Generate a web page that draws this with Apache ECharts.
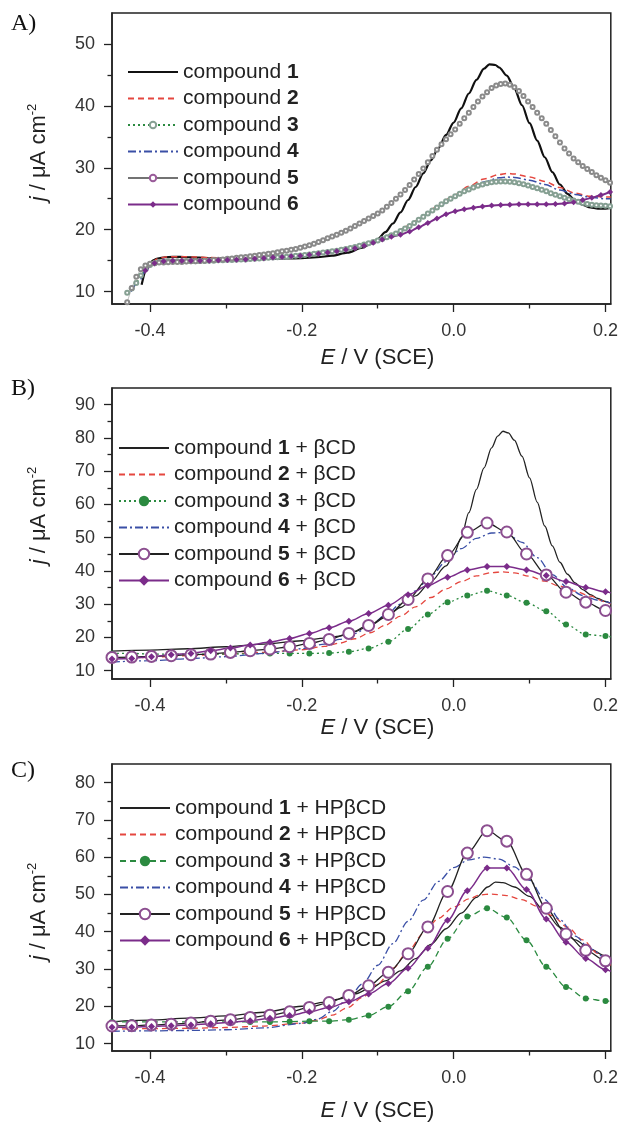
<!DOCTYPE html>
<html><head><meta charset="utf-8">
<script src="https://cdn.jsdelivr.net/npm/echarts@6.0.0/dist/echarts.min.js"></script>
<style>html,body{margin:0;padding:0;background:#fff}#c{width:621px;height:1124px}</style>
</head><body><div id="c"></div>
<script>
// ---------------- DATA ----------------
const E_RANGE = [-0.45, 0.207];
const X_MAJOR = [-0.4, -0.2, 0, 0.2];
const X_MINOR = [-0.3, -0.1, 0.1];
const Y_RANGE_A = [8, 55], YA_MAJOR = [10, 20, 30, 40, 50], YA_MINOR = [15, 25, 35, 45];
const Y_RANGE_B = [7.5, 95], YB_MAJOR = [10, 20, 30, 40, 50, 60, 70, 80, 90], YB_MINOR = [15, 25, 35, 45, 55, 65, 75, 85];
const Y_RANGE_C = [8, 85], YC_MAJOR = [10, 20, 30, 40, 50, 60, 70, 80], YC_MINOR = [15, 25, 35, 45, 55, 65, 75];

const NAMES_A = ['compound 1', 'compound 2', 'compound 3', 'compound 4', 'compound 5', 'compound 6'];
const NAMES_B = ['compound 1 + βCD', 'compound 2 + βCD', 'compound 3 + βCD', 'compound 4 + βCD', 'compound 5 + βCD', 'compound 6 + βCD'];
const NAMES_C = ['compound 1 + HPβCD', 'compound 2 + HPβCD', 'compound 3 + HPβCD', 'compound 4 + HPβCD', 'compound 5 + HPβCD', 'compound 6 + HPβCD'];

// Panel A
const E_A1 = [-0.411,-0.405,-0.400,-0.395,-0.390,-0.380,-0.370,-0.360,-0.350,-0.340,-0.330,-0.320,-0.300,-0.280,-0.260,-0.240,-0.220,-0.200,-0.180,-0.160,-0.140,-0.120,-0.110,-0.100,-0.090,-0.080,-0.070,-0.060,-0.050,-0.040,-0.030,-0.020,-0.010,0.000,0.010,0.020,0.030,0.040,0.047,0.055,0.060,0.070,0.080,0.090,0.100,0.110,0.120,0.130,0.140,0.150,0.160,0.170,0.180,0.190,0.200,0.207];
const J_A1 = [11.1,13.4,14.6,15.1,15.35,15.55,15.6,15.6,15.55,15.5,15.45,15.4,15.35,15.3,15.3,15.3,15.35,15.4,15.55,15.8,16.3,17.1,17.7,18.5,19.6,21.0,22.8,24.8,26.9,29.1,31.2,33.2,35.3,37.3,39.6,42.0,44.2,46.0,46.7,46.6,46.2,44.9,42.8,40.1,37.2,34.4,31.7,29.3,27.3,25.8,24.7,24.0,23.6,23.4,23.4,23.5];
const E_A2 = [-0.420,-0.410,-0.400,-0.390,-0.380,-0.360,-0.340,-0.320,-0.300,-0.280,-0.260,-0.240,-0.220,-0.200,-0.180,-0.160,-0.140,-0.120,-0.100,-0.080,-0.060,-0.040,-0.020,0.000,0.020,0.040,0.060,0.070,0.080,0.100,0.120,0.140,0.160,0.180,0.200,0.207];
const J_A2 = [11.0,12.8,14.5,15.3,15.6,15.65,15.6,15.5,15.45,15.4,15.45,15.5,15.6,15.8,16.0,16.35,16.85,17.5,18.3,19.3,20.6,22.2,23.9,25.5,27.0,28.2,28.9,29.1,29.0,28.5,27.8,26.8,25.9,25.4,25.3,25.3];
const E_A_DENSE = [-0.430,-0.424,-0.418,-0.412,-0.406,-0.400,-0.394,-0.388,-0.382,-0.376,
 -0.370,-0.364,-0.358,-0.352,-0.346,-0.340,-0.334,-0.328,-0.322,-0.316,
 -0.310,-0.304,-0.298,-0.292,-0.286,-0.280,-0.274,-0.268,-0.262,-0.256,
 -0.250,-0.244,-0.238,-0.232,-0.226,-0.220,-0.214,-0.208,-0.202,-0.196,
 -0.190,-0.184,-0.178,-0.172,-0.166,-0.160,-0.154,-0.148,-0.142,-0.136,
 -0.130,-0.124,-0.118,-0.112,-0.106,-0.100,-0.094,-0.088,-0.082,-0.076,
 -0.070,-0.064,-0.058,-0.052,-0.046,-0.040,-0.034,-0.028,-0.022,-0.016,
 -0.010,-0.004,0.002,0.008,0.014,0.020,0.026,0.032,0.038,0.044,
 0.050,0.056,0.062,0.068,0.074,0.080,0.086,0.092,0.098,0.104,
 0.110,0.116,0.122,0.128,0.134,0.140,0.146,0.152,0.158,0.164,
 0.170,0.176,0.182,0.188,0.194,0.200,0.206];
const J_A3 = [9.8,10.5,11.4,12.6,13.6,14.3,14.6,14.8,14.85,14.9,
 14.9,14.9,14.9,14.9,14.9,14.9,14.95,14.95,15.0,15.0,
 15.05,15.05,15.1,15.1,15.15,15.2,15.2,15.25,15.3,15.35,
 15.4,15.45,15.5,15.55,15.6,15.65,15.7,15.8,15.85,15.9,
 16.0,16.1,16.2,16.3,16.4,16.5,16.6,16.75,16.9,17.05,
 17.2,17.4,17.6,17.8,18.0,18.25,18.5,18.8,19.1,19.4,
 19.8,20.2,20.6,21.1,21.6,22.1,22.6,23.1,23.6,24.1,
 24.6,25.0,25.4,25.8,26.2,26.5,26.8,27.1,27.3,27.5,
 27.65,27.75,27.8,27.8,27.75,27.65,27.5,27.35,27.15,26.9,
 26.7,26.45,26.2,25.9,25.65,25.4,25.15,24.9,24.7,24.5,
 24.3,24.15,24.05,23.95,23.9,23.85,23.8];
const E_A4 = [-0.425,-0.415,-0.405,-0.395,-0.385,-0.370,-0.350,-0.300,-0.250,-0.200,-0.180,-0.160,-0.140,-0.120,-0.100,-0.080,-0.060,-0.040,-0.020,0.000,0.020,0.040,0.060,0.070,0.080,0.100,0.120,0.140,0.160,0.180,0.200,0.207];
const J_A4 = [10.0,11.6,13.4,14.5,14.9,15.0,15.0,15.1,15.35,15.75,16.0,16.35,16.85,17.5,18.3,19.3,20.5,22.0,23.7,25.3,26.7,27.7,28.4,28.5,28.45,28.0,27.3,26.4,25.7,25.25,25.0,25.0];
const J_A5 = [8.3,10.6,12.4,13.6,14.2,14.5,14.6,14.7,14.7,14.75,
 14.8,14.8,14.8,14.85,14.9,14.9,14.95,15.0,15.05,15.1,
 15.15,15.2,15.3,15.35,15.45,15.55,15.6,15.7,15.8,15.9,
 16.0,16.1,16.2,16.35,16.5,16.6,16.75,16.9,17.1,17.3,
 17.5,17.75,18.0,18.3,18.6,18.9,19.2,19.5,19.85,20.2,
 20.6,21.0,21.4,21.8,22.2,22.6,23.1,23.7,24.3,25.0,
 25.7,26.4,27.2,28.1,29.0,29.9,30.9,31.9,32.9,33.8,
 34.6,35.4,36.2,37.1,38.0,38.9,39.8,40.7,41.5,42.2,
 42.9,43.3,43.55,43.6,43.4,43.0,42.4,41.6,40.7,39.8,
 38.9,38.0,37.1,36.1,35.1,34.1,33.1,32.3,31.5,30.9,
 30.3,29.8,29.3,28.8,28.4,28.0,27.6];
const E_A6 = [-0.406,-0.394,-0.382,-0.370,-0.358,-0.346,-0.334,-0.322,-0.310,-0.298,
 -0.286,-0.274,-0.262,-0.250,-0.238,-0.226,-0.214,-0.202,-0.190,-0.178,
 -0.166,-0.154,-0.142,-0.130,-0.118,-0.106,-0.094,-0.082,-0.070,-0.058,
 -0.046,-0.034,-0.022,-0.010,0.002,0.014,0.026,0.038,0.050,0.062,
 0.074,0.086,0.098,0.110,0.122,0.134,0.146,0.158,0.170,0.182,
 0.194,0.206];
const J_A6 = [13.4,14.6,14.9,15.0,15.0,15.0,15.0,15.0,15.05,15.1,
 15.15,15.2,15.3,15.4,15.5,15.6,15.7,15.8,15.95,16.1,
 16.3,16.5,16.75,17.0,17.4,17.9,18.4,18.85,19.2,19.7,
 20.4,21.1,21.8,22.5,23.0,23.3,23.55,23.75,23.9,24.0,
 24.05,24.1,24.1,24.1,24.1,24.15,24.25,24.45,24.8,25.15,
 25.6,26.1];

// Panels B and C: marker positions (last point = curve end, no marker)
const E_MARK = [-0.450,-0.424,-0.398,-0.372,-0.346,-0.320,-0.294,-0.268,-0.242,-0.216,-0.190,-0.164,-0.138,-0.112,-0.086,-0.060,-0.034,-0.008,0.018,0.044,0.070,0.096,0.122,0.148,0.174,0.200,0.207];

// Panel B
const E_B1 = [-0.45,-0.40,-0.35,-0.30,-0.25,-0.20,-0.17,-0.15,-0.13,-0.11,-0.09,-0.07,-0.05,-0.03,-0.01,0.00,0.01,0.02,0.03,0.04,0.05,0.058,0.065,0.072,0.08,0.09,0.10,0.11,0.12,0.13,0.14,0.15,0.16,0.17,0.18,0.19,0.20,0.207];
const J_B1 = [15.9,16.2,16.6,17.2,18.0,19.0,19.8,20.4,21.8,23.6,26.0,29.0,32.5,36.8,41.5,44.8,50.0,57.5,64.5,71.0,77.0,80.5,82.0,81.5,79.3,74.5,68.0,60.7,53.5,47.5,42.6,39.0,36.4,34.4,32.9,31.7,30.8,30.2];
const E_B2 = [-0.45,-0.40,-0.35,-0.30,-0.25,-0.20,-0.17,-0.15,-0.13,-0.11,-0.09,-0.07,-0.05,-0.03,-0.01,0.01,0.03,0.05,0.065,0.08,0.10,0.12,0.14,0.16,0.18,0.20,0.207];
const J_B2 = [13.5,14.0,14.5,15.0,15.5,16.3,17.3,18.3,19.6,21.4,23.7,26.4,29.2,32.0,34.6,36.8,38.5,39.5,39.7,39.4,38.4,36.9,35.4,33.9,32.4,30.7,30.1];
const J_B3 = [15.2,15.2,15.0,15.0,15.0,15.0,15.0,15.1,15.2,15.2,15.2,15.3,15.7,16.7,18.7,22.5,26.9,30.6,32.6,34.0,32.6,30.4,27.9,23.9,20.9,20.4,20.2];
const E_B4 = [-0.45,-0.40,-0.35,-0.30,-0.25,-0.20,-0.17,-0.15,-0.13,-0.11,-0.09,-0.07,-0.05,-0.03,-0.01,0.01,0.03,0.05,0.06,0.07,0.09,0.11,0.13,0.15,0.17,0.19,0.207];
const J_B4 = [12.6,13.0,13.6,14.2,15.2,16.6,18.0,19.4,21.2,23.6,26.6,30.0,34.0,38.5,42.8,46.7,49.8,51.4,51.5,51.2,48.6,44.0,38.9,35.0,32.6,31.2,30.3];
const J_B5 = [14.0,14.1,14.3,14.5,14.8,15.0,15.5,16.0,16.5,17.2,18.2,19.4,21.2,23.6,26.9,31.4,37.6,44.6,51.6,54.4,51.7,45.1,38.8,33.6,30.6,28.1,27.5];
const J_B6 = [13.5,13.7,14.2,14.8,15.2,16.0,16.8,17.7,18.6,19.7,21.2,22.9,24.9,27.2,29.7,32.8,35.6,38.1,40.3,41.3,41.3,40.3,38.6,36.8,35.0,33.7,33.4];

// Panel C
const E_C1 = [-0.45,-0.40,-0.35,-0.30,-0.25,-0.20,-0.17,-0.15,-0.13,-0.11,-0.09,-0.07,-0.05,-0.03,-0.01,0.01,0.03,0.045,0.055,0.065,0.08,0.10,0.12,0.14,0.16,0.18,0.20,0.207];
const J_C1 = [15.9,16.3,16.8,17.4,18.4,20.0,21.1,22.0,23.3,24.8,26.8,29.5,32.8,36.6,40.8,45.0,49.2,52.0,53.3,53.2,52.0,49.5,45.5,41.2,37.8,35.3,33.5,33.0];
const E_C2 = [-0.45,-0.40,-0.35,-0.30,-0.25,-0.20,-0.18,-0.16,-0.14,-0.12,-0.10,-0.08,-0.06,-0.04,-0.02,0.00,0.02,0.035,0.05,0.07,0.09,0.11,0.13,0.15,0.17,0.19,0.207];
const J_C2 = [13.9,14.0,14.1,14.3,14.7,15.5,16.3,17.6,19.6,22.4,26.0,30.2,34.8,39.5,43.6,46.6,48.8,49.9,50.1,49.7,48.6,46.8,44.3,41.2,37.8,34.2,31.0];
const J_C3 = [15.8,15.8,15.8,15.8,15.8,15.8,15.8,15.8,15.8,15.9,16.0,16.0,16.4,17.5,19.9,24.0,30.6,38.1,44.1,46.3,43.8,37.7,30.6,25.2,22.1,21.4,21.4];
const E_C4 = [-0.45,-0.40,-0.35,-0.30,-0.25,-0.20,-0.18,-0.16,-0.14,-0.12,-0.10,-0.08,-0.06,-0.04,-0.02,0.00,0.02,0.04,0.06,0.08,0.10,0.12,0.14,0.16,0.18,0.20,0.207];
const J_C4 = [13.3,13.4,13.5,13.7,14.2,15.4,16.5,18.6,21.8,26.0,31.0,36.8,42.8,48.5,53.5,57.2,59.3,60.0,59.5,57.4,53.8,48.6,43.2,38.8,35.4,33.0,32.3];
const J_C5 = [14.7,14.8,15.0,15.2,15.5,16.0,16.4,17.0,17.6,18.5,19.7,21.0,22.9,25.5,29.1,34.1,41.3,50.8,61.1,67.1,64.3,55.4,46.3,39.4,35.0,32.2,31.8];
const J_C6 = [14.4,14.4,14.6,14.8,15.0,15.3,15.7,16.1,16.8,17.5,18.5,19.7,21.2,23.3,26.1,30.2,35.6,43.1,51.0,57.1,57.1,51.3,43.4,37.2,32.8,29.8,29.4];

// ---------------- BUILD ----------------
const FONT = 'Liberation Sans';
const INK = '#222';
const RED = '#e5473f', GREEN = '#2b8a40', BLUE = '#3a4fa6', PURPLE = '#7b2c8a', CIRC = '#8c4f90';

function pts(E, J, lastPlain) {
  return E.map((e, i) => {
    if (lastPlain && i === E.length - 1) return { value: [e, J[i]], symbol: 'none' };
    return [e, J[i]];
  });
}

const grids = [
  { left: 112, top: 13, width: 499, height: 291 },
  { left: 112, top: 388, width: 499, height: 291 },
  { left: 112, top: 764, width: 499, height: 291 }
].map(g => Object.assign(g, { show: true, borderColor: INK, borderWidth: 1.5, backgroundColor: 'transparent' }));

const xAxes = [], yAxes = [];
const nameStyleX = {
  fontFamily: FONT, fontSize: 22, color: INK, lineHeight: 24,
  rich: { it: { fontFamily: FONT, fontSize: 22, fontStyle: 'italic', color: INK, lineHeight: 24 } }
};
function nameStyleY(pad) {
  return {
    fontFamily: FONT, fontSize: 22, color: INK, lineHeight: 26, padding: pad,
    rich: {
      it: { fontFamily: FONT, fontSize: 22, fontStyle: 'italic', color: INK, lineHeight: 26 },
      sup: { fontFamily: FONT, fontSize: 13, color: INK, lineHeight: 14, verticalAlign: 'top' }
    }
  };
}
function addAxes(gi, yr, yMaj, yMin, xGap, yPad) {
  const tickStyle = { color: INK, width: 1.3 };
  xAxes.push({
    gridIndex: gi, type: 'value', min: E_RANGE[0], max: E_RANGE[1], position: 'bottom',
    axisLine: { show: true, onZero: false, lineStyle: { color: INK, width: 1.5 } },
    axisTick: { show: true, inside: false, customValues: X_MAJOR, length: 8, lineStyle: tickStyle },
    axisLabel: { show: true, customValues: X_MAJOR, formatter: v => v.toFixed(1), margin: 18, fontSize: 18, fontFamily: FONT, color: '#333' },
    splitLine: { show: false },
    name: '{it|E} / V (SCE)', nameLocation: 'middle', nameGap: xGap,
    nameTextStyle: Object.assign({ padding: [0, 0, 0, 32] }, nameStyleX)
  });
  xAxes.push({
    gridIndex: gi, type: 'value', min: E_RANGE[0], max: E_RANGE[1], position: 'bottom',
    axisLine: { show: false, onZero: false },
    axisTick: { show: true, inside: false, customValues: X_MINOR, length: 4.5, lineStyle: tickStyle },
    axisLabel: { show: false }, splitLine: { show: false }
  });
  yAxes.push({
    gridIndex: gi, type: 'value', min: yr[0], max: yr[1], position: 'left',
    axisLine: { show: true, onZero: false, lineStyle: { color: INK, width: 1.5 } },
    axisTick: { show: true, inside: false, customValues: yMaj, length: 8, lineStyle: tickStyle },
    axisLabel: { show: true, customValues: yMaj, formatter: v => String(v), margin: 17, fontSize: 18, fontFamily: FONT, color: '#333' },
    splitLine: { show: false },
    name: '{it|j} / μA cm{sup|-2}', nameLocation: 'middle', nameGap: 60, nameRotate: 90,
    nameTextStyle: nameStyleY(yPad)
  });
  yAxes.push({
    gridIndex: gi, type: 'value', min: yr[0], max: yr[1], position: 'left',
    axisLine: { show: false, onZero: false },
    axisTick: { show: true, inside: false, customValues: yMin, length: 4.5, lineStyle: tickStyle },
    axisLabel: { show: false }, splitLine: { show: false }
  });
}
addAxes(0, Y_RANGE_A, YA_MAJOR, YA_MINOR, 42, [0, 0, 0, 12]);
addAxes(1, Y_RANGE_B, YB_MAJOR, YB_MINOR, 35, [0, 0, 0, 36]);
addAxes(2, Y_RANGE_C, YC_MAJOR, YC_MINOR, 48, [0, 8, 0, 0]);

const series = [];
function addLine(gi, name, data, o) {
  series.push({
    type: 'line', name: name, xAxisIndex: gi * 2, yAxisIndex: gi * 2, data: data,
    smooth: o.smooth == null ? 0.3 : o.smooth, smoothMonotone: 'x',
    symbol: o.symbol || 'none', symbolSize: o.size || 0, showSymbol: !!o.symbol, showAllSymbol: true,
    lineStyle: { color: o.color, width: o.width || 1.3, type: o.type || 'solid' },
    itemStyle: { color: o.mcolor || o.color, borderWidth: o.bw || 1 },
    color: o.mcolor || o.color,
    emphasis: { disabled: true }, animation: false, clip: true, z: o.z || 2
  });
}
// A
addLine(0, NAMES_A[0], pts(E_A1, J_A1), { color: '#111', width: 2.2 });
addLine(0, NAMES_A[1], pts(E_A2, J_A2), { color: RED, width: 1.5, type: [6, 4] });
addLine(0, NAMES_A[2], pts(E_A_DENSE, J_A3), { color: GREEN, width: 1.2, type: [2, 3], symbol: 'emptyCircle', size: 4, mcolor: '#86a093', bw: 0.8, smooth: 0 });
addLine(0, NAMES_A[3], pts(E_A4, J_A4), { color: BLUE, width: 1.5, type: [8, 3, 2, 3] });
addLine(0, NAMES_A[4], pts(E_A_DENSE, J_A5), { color: '#999', width: 0.6, symbol: 'emptyCircle', size: 4, mcolor: '#8a8a8a', bw: 0.8, smooth: 0 });
addLine(0, NAMES_A[5], pts(E_A6, J_A6), { color: PURPLE, width: 2, symbol: 'diamond', size: 6, smooth: 0.2 });
// B
addLine(1, NAMES_B[0], pts(E_B1, J_B1), { color: INK, width: 1.3 });
addLine(1, NAMES_B[1], pts(E_B2, J_B2), { color: RED, width: 1.3, type: [6, 4] });
addLine(1, NAMES_B[2], pts(E_MARK, J_B3, true), { color: GREEN, width: 1.3, type: [2, 3], symbol: 'circle', size: 6 });
addLine(1, NAMES_B[3], pts(E_B4, J_B4), { color: BLUE, width: 1.3, type: [8, 3, 2, 3] });
addLine(1, NAMES_B[4], pts(E_MARK, J_B5, true), { color: INK, width: 1.3, symbol: 'emptyCircle', size: 11, mcolor: CIRC, bw: 1.2 });
addLine(1, NAMES_B[5], pts(E_MARK, J_B6, true), { color: PURPLE, width: 1.5, symbol: 'diamond', size: 7 });
// C
addLine(2, NAMES_C[0], pts(E_C1, J_C1), { color: INK, width: 1.3 });
addLine(2, NAMES_C[1], pts(E_C2, J_C2), { color: RED, width: 1.3, type: [6, 4] });
addLine(2, NAMES_C[2], pts(E_MARK, J_C3, true), { color: GREEN, width: 1.3, type: [6, 4], symbol: 'circle', size: 6 });
addLine(2, NAMES_C[3], pts(E_C4, J_C4), { color: BLUE, width: 1.3, type: [8, 3, 2, 3] });
addLine(2, NAMES_C[4], pts(E_MARK, J_C5, true), { color: INK, width: 1.3, symbol: 'emptyCircle', size: 11, mcolor: CIRC, bw: 1.2 });
addLine(2, NAMES_C[5], pts(E_MARK, J_C6, true), { color: PURPLE, width: 1.5, symbol: 'diamond', size: 7 });

function legendFor(names, left, top, noSymbolIdx, iconH, overrides) {
  return {
    orient: 'vertical', left: left, top: top, padding: 0, itemGap: 4.5,
    itemWidth: 50, itemHeight: iconH, selectedMode: false,
    data: names.map((n, i) => {
      if (noSymbolIdx.indexOf(i) >= 0) return { name: n, itemStyle: { opacity: 0 } };
      if (overrides && overrides[i]) return Object.assign({ name: n }, overrides[i]);
      return { name: n };
    }),
    formatter: n => n.replace(/compound (\d)/, 'compound {b|$1}'),
    textStyle: {
      fontFamily: FONT, fontSize: 21, color: INK, lineHeight: 22,
      rich: { b: { fontFamily: FONT, fontSize: 21, fontWeight: 'bold', color: INK, lineHeight: 22 } }
    }
  };
}

const option = {
  animation: false,
  textStyle: { fontFamily: FONT },
  grid: grids, xAxis: xAxes, yAxis: yAxes, series: series,
  legend: [
    legendFor(NAMES_A, 127, 61, [0, 1, 3], 8, { 4: { itemStyle: { color: '#9a5c9a' }, lineStyle: { color: '#444', width: 1.3 } } }),
    legendFor(NAMES_B, 118, 437, [0, 1, 3], 13),
    legendFor(NAMES_C, 119, 797, [0, 1, 3], 13)
  ],
  graphic: [
    { type: 'text', left: 11, top: 12, style: { text: 'A)', font: '24px "Liberation Serif"', fill: '#111' } },
    { type: 'text', left: 11, top: 377, style: { text: 'B)', font: '24px "Liberation Serif"', fill: '#111' } },
    { type: 'text', left: 11, top: 759, style: { text: 'C)', font: '24px "Liberation Serif"', fill: '#111' } }
  ]
};
const chart = echarts.init(document.getElementById('c'), null, { renderer: 'canvas' });
chart.setOption(option);
</script></body></html>
